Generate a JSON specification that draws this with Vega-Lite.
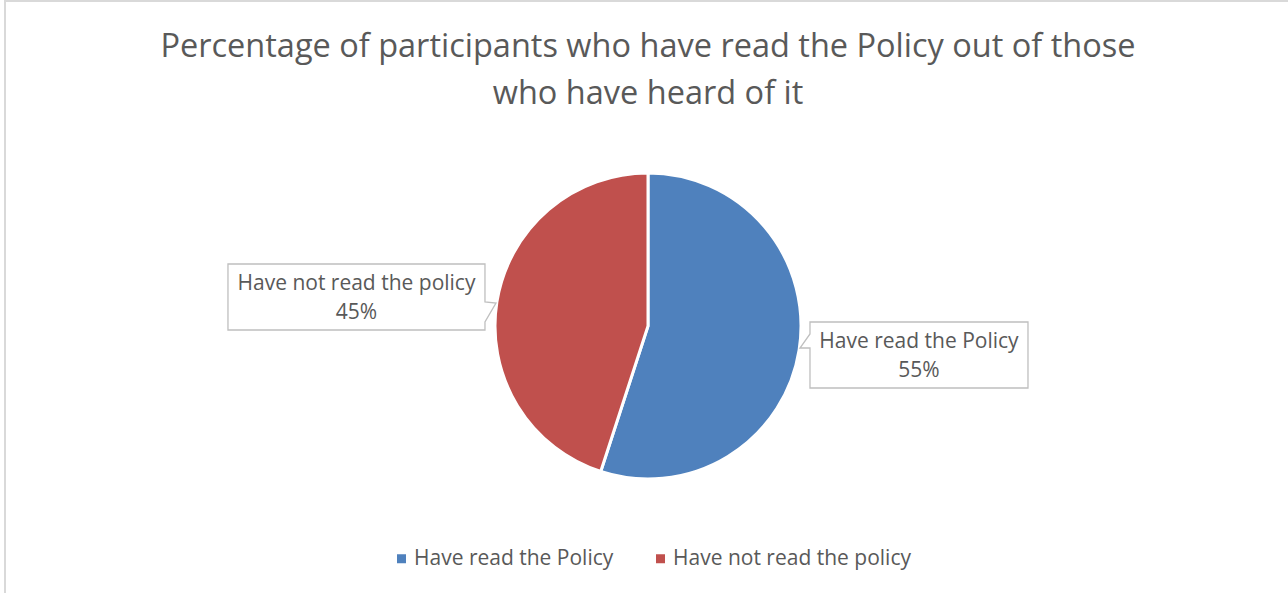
{
  "$schema": "https://vega.github.io/schema/vega-lite/v6.json",
  "autosize": {"type": "none"},
  "padding": {"left": 5, "top": 1, "right": 0, "bottom": 0},
  "width": 1286,
  "height": 650,
  "background": "white",
  "config": {
    "view": {"stroke": "#d9d9d9", "strokeWidth": 2},
    "font": "Open Sans"
  },
  "title": {
    "text": ["Percentage of participants who have read the Policy out of those", "who have heard of it"],
    "anchor": "middle",
    "font": "Open Sans",
    "fontSize": 32.5,
    "fontWeight": "normal",
    "color": "#595959",
    "lineHeight": 47,
    "baseline": "alphabetic",
    "dy": 139
  },
  "data": {
    "values": [
      {"category": "Have read the Policy", "share": 0.55, "rank": 1},
      {"category": "Have not read the policy", "share": 0.45, "rank": 2}
    ]
  },
  "layer": [
    {
      "mark": {"type": "arc", "outerRadius": 153, "stroke": "white", "strokeWidth": 3},
      "encoding": {
        "theta": {"field": "share", "type": "quantitative", "stack": true},
        "order": {"field": "rank", "type": "quantitative"},
        "color": {
          "field": "category",
          "type": "nominal",
          "scale": {"domain": ["Have read the Policy", "Have not read the policy"], "range": ["#4f81bd", "#c0504d"]},
          "legend": {
            "title": null,
            "orient": "none",
            "direction": "horizontal",
            "legendX": 386,
            "legendY": 547,
            "padding": 0,
            "symbolType": "square",
            "symbolSize": 81,
            "symbolStrokeWidth": 0,
            "labelFont": "Open Sans",
            "labelFontSize": 21,
            "labelColor": "#595959",
            "labelOffset": 2,
            "columnPadding": 36,
            "labelLimit": 400
          }
        }
      }
    },
    {
      "mark": {"type": "point", "filled": true, "fill": "white", "stroke": "#bfbfbf", "strokeWidth": 1.3, "size": 4, "opacity": 1},
      "encoding": {
        "x": {"field": "category", "type": "nominal", "axis": null,
              "scale": {"type": "point", "domain": ["Have not read the policy", "Have read the Policy"], "padding": 0.6431, "align": 0.4858}},
        "y": {"field": "category", "type": "nominal", "axis": null,
              "scale": {"type": "point", "domain": ["Have not read the policy", "Have read the Policy"], "range": [296, 354], "padding": 0}},
        "shape": {
          "field": "category",
          "type": "nominal",
          "legend": null,
          "scale": {
            "domain": ["Have not read the policy", "Have read the Policy"],
            "range": ["M-128.5,-33H128.5V5L139.5,6L128.5,25V33H-128.5Z", "M-109,-33H109V33H-109V-7L-119,-7L-109,-21Z"]
          }
        }
      }
    },
    {
      "mark": {"type": "text", "align": "center", "baseline": "alphabetic", "dy": -7, "fontSize": 21, "font": "Open Sans", "color": "#595959"},
      "encoding": {
        "x": {"field": "category", "type": "nominal"},
        "y": {"field": "category", "type": "nominal"},
        "text": {"field": "category", "type": "nominal"}
      }
    },
    {
      "mark": {"type": "text", "align": "center", "baseline": "alphabetic", "dy": 22, "fontSize": 21, "font": "Open Sans", "color": "#595959"},
      "encoding": {
        "x": {"field": "category", "type": "nominal"},
        "y": {"field": "category", "type": "nominal"},
        "text": {"field": "share", "type": "quantitative", "format": ".0%"}
      }
    }
  ]
}
